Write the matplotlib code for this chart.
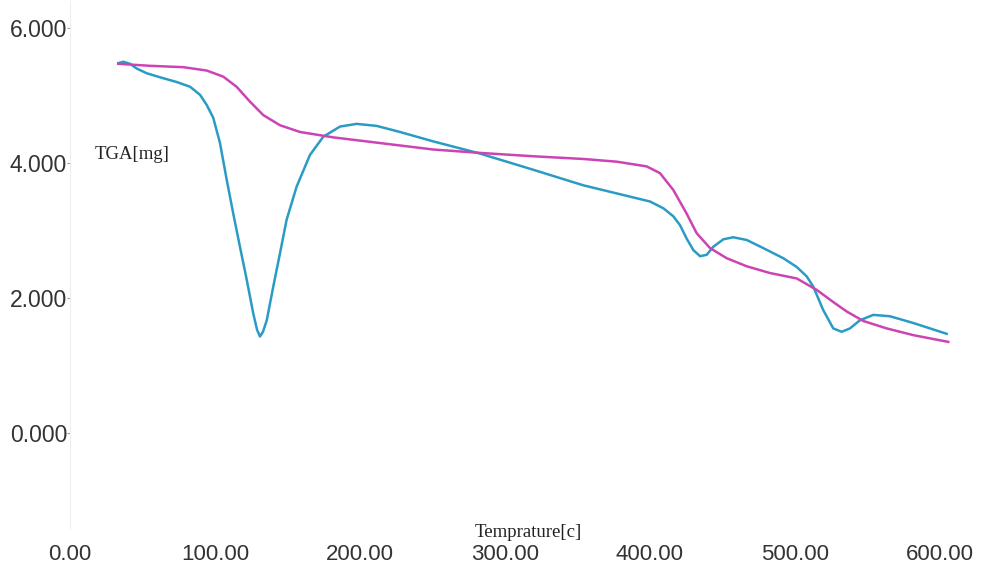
import numpy as np
import matplotlib
matplotlib.use("Agg")
import matplotlib.pyplot as plt

# TGA curves (temperature in C, mass in mg)
cyan_t = [33.3, 36.8, 41.4, 46.0, 52.9, 62.1, 73.6, 82.8, 89.7, 94.3, 98.8, 103.4,
          108.1, 112.6, 117.2, 121.9, 126.4, 129.0, 131.0, 133.1, 135.7, 140.2, 144.8,
          149.4, 156.3, 165.5, 174.7, 186.2, 197.7, 211.5, 227.6, 250.6, 282.8, 319.5,
          354.0, 377.0, 400.0, 409.2, 416.1, 420.7, 425.3, 429.9, 434.5, 439.1, 443.7,
          450.6, 457.4, 466.7, 478.1, 491.9, 501.2, 508.1, 512.6, 519.5, 526.4, 532.2,
          537.9, 544.8, 554.0, 565.5, 581.6, 604.6]
cyan_m = [5.48, 5.50, 5.47, 5.40, 5.33, 5.27, 5.20, 5.13, 5.01, 4.86, 4.67, 4.30,
          3.75, 3.25, 2.76, 2.27, 1.77, 1.53, 1.43, 1.50, 1.67, 2.17, 2.66,
          3.16, 3.65, 4.12, 4.39, 4.54, 4.58, 4.55, 4.46, 4.32, 4.14, 3.90,
          3.67, 3.55, 3.43, 3.33, 3.21, 3.08, 2.88, 2.71, 2.62, 2.64, 2.76,
          2.87, 2.90, 2.86, 2.74, 2.59, 2.46, 2.32, 2.17, 1.82, 1.55, 1.50,
          1.55, 1.67, 1.75, 1.73, 1.63, 1.47]

mag_t = [33.3, 55.2, 78.1, 94.3, 105.7, 114.9, 124.1, 133.3, 144.8, 158.6, 181.6,
         216.1, 250.6, 282.8, 319.5, 354.0, 377.0, 397.7, 406.9, 416.1, 425.3, 432.2,
         441.4, 452.9, 466.7, 482.8, 501.2, 515.0, 526.4, 535.7, 547.1, 563.2, 581.6,
         605.7]
mag_m = [5.47, 5.44, 5.42, 5.37, 5.28, 5.13, 4.91, 4.71, 4.56, 4.46, 4.38,
         4.29, 4.20, 4.15, 4.10, 4.06, 4.02, 3.95, 3.85, 3.60, 3.25, 2.96,
         2.74, 2.59, 2.47, 2.37, 2.29, 2.12, 1.94, 1.80, 1.66, 1.55, 1.45,
         1.35]

xticks = [0, 100, 200, 300, 400, 500, 600]
xtick_labels = ["0.00", "100.00", "200.00", "300.00", "400.00", "500.00", "600.00"]
yticks = [0, 2, 4, 6]
ytick_labels = ["0.000", "2.000", "4.000", "6.000"]

fig = plt.figure(figsize=(9.83, 5.69), dpi=100)
ax = fig.add_axes([0.0712, 0.0729, 0.9293, 0.9253])

ax.plot(cyan_t, cyan_m, color="#2a9cc4", linewidth=1.8, solid_joinstyle="round")
ax.plot(mag_t, mag_m, color="#cc44b4", linewidth=1.8, solid_joinstyle="round")

ax.set_xlim(0, 630)
ax.set_ylim(-1.4, 6.4)

ax.set_xticks(xticks)
ax.set_xticklabels(xtick_labels, fontsize=16, color="#333333", family="Liberation Sans")
ax.set_yticks(yticks)
ax.set_yticklabels(ytick_labels, fontsize=16.5, color="#333333", family="Liberation Sans")
ax.tick_params(axis="x", length=0, pad=12)
ax.tick_params(axis="y", length=2, pad=0, color="#999999")

for s in ["top", "right", "bottom"]:
    ax.spines[s].set_visible(False)
ax.spines["left"].set_color("#eeeeee")

# axis captions sit inside the plot, as on the scan
ax.text(43, 4.12, "TGA[mg]", fontsize=13.5, family="Liberation Serif",
        color="#222222", ha="center", va="center")
ax.text(316, -1.48, "Temprature[c]", fontsize=13.5, family="Liberation Serif",
        color="#222222", ha="center", va="center", clip_on=False)

fig.savefig("out.png", dpi=100)
